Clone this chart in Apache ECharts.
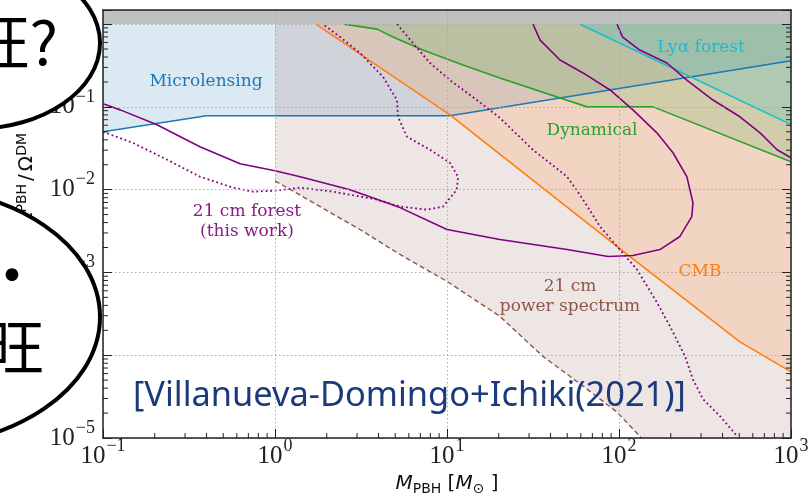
<!DOCTYPE html>
<html>
<head>
<meta charset="utf-8">
<script src="https://cdn.jsdelivr.net/npm/echarts@6/dist/echarts.min.js"></script>
<style>
html, body { margin: 0; padding: 0; background: #fff; }
#chart_id { width: 811px; height: 500px; }
</style>
</head>
<body>
<div id="chart_id"></div>
<script>
// axis range (M_PBH in solar masses, f_PBH)
var xMin = 0.1, xMax = 1000;
var yMin = 1e-5, yMax = 1.48;

// Microlensing
var microM = [0.1, 0.4, 10.4, 1000];
var microF = [0.05, 0.078, 0.078, 0.36];
// Ly-alpha forest
var lyaM = [59, 1000];
var lyaF = [1, 0.061];
// Dynamical
var dynM = [2.52, 3.92, 4.85, 7.24, 12.4, 20.3, 65.2, 158, 1000];
var dynF = [1, 0.87, 0.70, 0.486, 0.32, 0.223, 0.1, 0.1, 0.0217];
// CMB
var cmbM = [1.73, 10.4, 111, 505, 1000];
var cmbF = [1, 0.080, 0.00166, 1.45e-4, 6.3e-5];
// 21 cm power spectrum
var psM = [1, 3.12, 5.33, 10, 20.3, 36.1, 65.2, 97.3, 135];
var psF = [0.0128, 0.0033, 0.00165, 7.8e-4, 2.95e-4, 9.7e-5, 3.9e-5, 2.06e-5, 1e-5];
// 21 cm forest (this work), solid curves
var forestAM = [0.1, 0.126, 0.206, 0.366, 0.627, 1.0, 1.40, 2.73, 5.33, 10, 20.3, 49.9, 86.3, 120.5, 173, 226, 265, 269, 248, 206, 166, 120.5, 88.7, 61.8, 45.4, 34.8, 31.6];
var forestAF = [0.109, 0.092, 0.0607, 0.033, 0.0206, 0.0169, 0.01435, 0.01, 0.00607, 0.0033, 0.0025, 0.00189, 0.00156, 0.0016, 0.00189, 0.00272, 0.00473, 0.00697, 0.01435, 0.0279, 0.0486, 0.092, 0.160, 0.257, 0.368, 0.641, 1];
var forestBM = [97.3, 105, 132, 190, 248, 352, 505, 661, 830, 1000];
var forestBF = [1, 0.697, 0.486, 0.339, 0.211, 0.121, 0.0759, 0.0486, 0.0303, 0.0243];
// 21 cm forest (this work), dotted curves
var forestCM = [0.1, 0.149, 0.236, 0.366, 0.57, 0.745, 1.0, 1.40, 2.17, 3.92, 5.33, 7.66, 9.48, 11.4, 11.6, 10.4, 7.96, 5.85, 5.19, 5.12, 4.25, 3.12, 2.39, 1.90];
var forestCF = [0.05, 0.0368, 0.023, 0.01435, 0.01057, 0.00946, 0.00973, 0.01057, 0.00946, 0.00759, 0.00624, 0.00574, 0.00624, 0.01, 0.01435, 0.0211, 0.0303, 0.0436, 0.0759, 0.121, 0.23, 0.448, 0.697, 1];
var forestDM = [5.12, 6.34, 7.96, 10.4, 14.9, 20.3, 31.6, 49.9, 61.8, 77.6, 101, 127, 166, 198, 242, 269, 308, 386, 485];
var forestDF = [1, 0.59, 0.339, 0.211, 0.121, 0.0736, 0.0303, 0.01435, 0.00759, 0.00358, 0.00189, 0.00109, 4.36e-4, 2.23e-4, 9.7e-5, 5.1e-5, 2.95e-5, 1.84e-5, 1.06e-5];

// minor ticks of the log axes
var minorX = [], minorY = [];
for (var d = -1; d < 3; d++) for (var k = 2; k < 10; k++) minorX.push([k * Math.pow(10, d), yMin]);
for (var d2 = -5; d2 < 0; d2++) for (var k2 = 2; k2 < 10; k2++) minorY.push([xMin, k2 * Math.pow(10, d2)]);

function pairs(xs, ys) {
  return xs.map(function (x, i) { return [x, ys[i]]; });
}

var serif = 'Liberation Serif';
var frame = '#222';

function powLabel(v) {
  var e = Math.log10(v), r = Math.round(e);
  if (Math.abs(e - r) > 1e-6) return '';
  return '{b|10}{s|' + (r < 0 ? '\u2212' + (-r) : r) + '}';
}
// the 10^0 label on the y axis sits under the speech bubble
function powLabelY(v) {
  return v >= 1 ? '' : powLabel(v);
}
var powRich = {
  b: { fontFamily: serif, fontSize: 25, color: '#222', lineHeight: 26 },
  s: { fontFamily: serif, fontSize: 18, color: '#222', lineHeight: 18, padding: [0, 0, 20, 1] }
};
var nameRich = {
  i: { fontFamily: 'DejaVu Sans', fontStyle: 'italic', fontSize: 20, color: '#111', lineHeight: 24 },
  n: { fontFamily: 'DejaVu Sans', fontSize: 20, color: '#111', lineHeight: 24 },
  s: { fontFamily: 'DejaVu Sans', fontSize: 14, color: '#111', lineHeight: 14, padding: [10, 0, 0, 0] }
};
var yNameRich = {
  i: { fontFamily: 'DejaVu Sans', fontStyle: 'italic', fontSize: 20, fill: '#111', lineHeight: 22 },
  n: { fontFamily: 'DejaVu Sans', fontSize: 20, fill: '#111', lineHeight: 22 },
  sl: { fontFamily: 'DejaVu Sans', fontSize: 20, fill: '#111', lineHeight: 22, padding: [0, 3, 0, 3] },
  s: { fontFamily: 'DejaVu Sans', fontSize: 14, fill: '#111', lineHeight: 14, padding: [0, 0, 9, 0] }
};

function fillSeries(name, data, color) {
  return {
    name: name, type: 'line', data: data, showSymbol: false, silent: true,
    lineStyle: { width: 0, opacity: 0 },
    areaStyle: { color: color, origin: 'end', opacity: 1 },
    z: 2
  };
}
function lineSeries(name, data, color, type, width) {
  return {
    name: name, type: 'line', data: data, showSymbol: false, silent: true,
    lineStyle: { color: color, width: width || 1.6, type: type || 'solid' },
    z: 3
  };
}

var chart = echarts.init(document.getElementById('chart_id'));
var option = {
  animation: false,
  grid: { left: 103, right: 20, top: 10, bottom: 62, containLabel: false, outerBoundsMode: 'none' },
  xAxis: [
    {
      type: 'log', logBase: 10, min: xMin, max: xMax, position: 'bottom', z: 6,
      axisLine: { lineStyle: { color: frame, width: 1.5 } },
      axisTick: { inside: true, length: 9, lineStyle: { color: frame, width: 1 } },
      splitLine: { show: true, lineStyle: { color: '#aaa', type: [1.5, 2.5], width: 1 } },
      axisLabel: { formatter: powLabel, rich: powRich, margin: 5 },
      name: '{i|M}{s|PBH}{n| [}{i|M}{s|\u2299}{n| ]}',
      nameLocation: 'middle', nameGap: 34, nameMoveOverlap: false,
      nameTextStyle: { rich: nameRich }
    },
    {
      type: 'log', logBase: 10, min: xMin, max: xMax, position: 'top', z: 6,
      axisLine: { lineStyle: { color: frame, width: 1.5 } },
      axisTick: { show: false }, axisLabel: { show: false }, splitLine: { show: false }
    }
  ],
  yAxis: [
    {
      type: 'log', logBase: 10, min: yMin, max: yMax, position: 'left', z: 6,
      axisLine: { lineStyle: { color: frame, width: 1.5 } },
      axisTick: { inside: true, length: 9, lineStyle: { color: frame, width: 1 } },
      splitLine: { show: true, lineStyle: { color: '#aaa', type: [1.5, 2.5], width: 1 } },
      axisLabel: { formatter: powLabelY, rich: powRich, margin: 8 }
    },
    {
      type: 'log', logBase: 10, min: yMin, max: yMax, position: 'right', z: 6,
      axisLine: { lineStyle: { color: frame, width: 1.5 } },
      axisTick: { inside: true, length: 9, lineStyle: { color: frame, width: 1 } },
      axisLabel: { show: false }, splitLine: { show: false }
    }
  ],
  series: [
    fillSeries('Microlensing area', pairs(microM, microF), 'rgba(31,119,180,0.16)'),
    fillSeries('21 cm power spectrum area', pairs(psM, psF).concat([[xMax, yMin]]), 'rgba(140,86,75,0.15)'),
    fillSeries('CMB area', pairs(cmbM, cmbF), 'rgba(255,127,14,0.16)'),
    fillSeries('Dynamical area', pairs(dynM, dynF), 'rgba(44,160,44,0.16)'),
    fillSeries('Lya area', pairs(lyaM, lyaF), 'rgba(23,190,207,0.18)'),
    lineSeries('Microlensing', pairs(microM, microF), '#1f77b4'),
    lineSeries('21 cm power spectrum', pairs(psM, psF), '#8c564b', [5, 3], 1.4),
    lineSeries('CMB', pairs(cmbM, cmbF), '#ff7f0e'),
    lineSeries('Dynamical', pairs(dynM, dynF), '#2ca02c'),
    lineSeries('Lya forest', pairs(lyaM, lyaF), '#17becf'),
    lineSeries('21 cm forest A', pairs(forestAM, forestAF), '#800080'),
    lineSeries('21 cm forest B', pairs(forestBM, forestBF), '#800080'),
    lineSeries('21 cm forest C', pairs(forestCM, forestCF), '#800080', [1.8, 2.8], 1.8),
    lineSeries('21 cm forest D', pairs(forestDM, forestDF), '#800080', [1.8, 2.8], 1.8),
    {
      name: 'f > 1', type: 'line', data: [], silent: true, z: 5,
      markArea: {
        silent: true, z: 5,
        itemStyle: { color: '#c0c0c0' },
        data: [[{ yAxis: 1 }, { yAxis: yMax }]]
      }
    },
    {
      name: 'minor x', type: 'custom', data: minorX, silent: true, z: 7,
      renderItem: function (params, api) {
        var cs = params.coordSys;
        var p = api.coord([api.value(0), api.value(1)]);
        var yb = cs.y + cs.height;
        return { type: 'line', shape: { x1: p[0], y1: yb, x2: p[0], y2: yb - 5 }, style: { stroke: frame, lineWidth: 1 } };
      }
    },
    {
      name: 'minor y', type: 'custom', data: minorY, silent: true, z: 7,
      renderItem: function (params, api) {
        var cs = params.coordSys;
        var p = api.coord([api.value(0), api.value(1)]);
        return {
          type: 'group', children: [
            { type: 'line', shape: { x1: cs.x, y1: p[1], x2: cs.x + 5, y2: p[1] }, style: { stroke: frame, lineWidth: 1 } },
            { type: 'line', shape: { x1: cs.x + cs.width, y1: p[1], x2: cs.x + cs.width - 5, y2: p[1] }, style: { stroke: frame, lineWidth: 1 } }
          ]
        };
      }
    }
  ],
  graphic: [
    // y axis title, rotated
    { type: 'text', z: 20, x: 27, y: 133, rotation: Math.PI / 2,
      style: { text: '{i|f}{s|PBH}{n| = \u03a9}{s|PBH}{sl|/}{n|\u03a9}{s|DM}', rich: yNameRich, align: 'right', verticalAlign: 'middle', textAlign: 'right', textVerticalAlign: 'middle' } },
    { type: 'text', z: 20, style: { text: 'Microlensing', x: 206, y: 82, fill: '#1f77b4', font: '17px "DejaVu Serif"', textAlign: 'center', textVerticalAlign: 'middle', align: 'center', verticalAlign: 'middle' } },
    { type: 'text', z: 20, style: { text: 'Ly\u03b1 forest', x: 701, y: 48, fill: '#17becf', font: '17px "DejaVu Serif"', textAlign: 'center', textVerticalAlign: 'middle', align: 'center', verticalAlign: 'middle' } },
    { type: 'text', z: 20, style: { text: 'Dynamical', x: 592, y: 131, fill: '#2ca02c', font: '17px "DejaVu Serif"', textAlign: 'center', textVerticalAlign: 'middle', align: 'center', verticalAlign: 'middle' } },
    { type: 'text', z: 20, style: { text: 'CMB', x: 700, y: 272, fill: '#ff7f0e', font: '17px "DejaVu Serif"', textAlign: 'center', textVerticalAlign: 'middle', align: 'center', verticalAlign: 'middle' } },
    { type: 'text', z: 20, style: { text: '21 cm\npower spectrum', x: 570, y: 297, fill: '#8c564b', font: '17px "DejaVu Serif"', lineHeight: 20, textAlign: 'center', textVerticalAlign: 'middle', align: 'center', verticalAlign: 'middle' } },
    { type: 'text', z: 20, style: { text: '21 cm forest\n(this work)', x: 247, y: 222, fill: '#8a1a8a', font: '17px "DejaVu Serif"', lineHeight: 20, textAlign: 'center', textVerticalAlign: 'middle', align: 'center', verticalAlign: 'middle' } },
    { type: 'text', z: 20, style: { text: '[Villanueva-Domingo+Ichiki(2021)]', x: 133, y: 396, fill: '#1a3a7c', font: '34.4px "Noto Sans"', textAlign: 'left', textVerticalAlign: 'middle', align: 'left', verticalAlign: 'middle' } },
    // speech bubbles overlapping the chart
    { type: 'ellipse', z: 30, shape: { cx: -27, cy: 43, rx: 127, ry: 86 }, style: { fill: '#fff', stroke: '#000', lineWidth: 4 } },
    { type: 'ellipse', z: 30, shape: { cx: -92, cy: 317, rx: 192, ry: 130 }, style: { fill: '#fff', stroke: '#000', lineWidth: 4 } },
    { type: 'text', z: 31, style: { text: '\u65fa?', x: 58, y: 42, fill: '#000', font: '60px "Noto Sans CJK JP"', textAlign: 'right', textVerticalAlign: 'middle', align: 'right', verticalAlign: 'middle' } },
    { type: 'text', z: 31, style: { text: '\u30fb', x: 12, y: 275, fill: '#000', font: '60px "Noto Sans CJK JP"', textAlign: 'center', textVerticalAlign: 'middle', align: 'center', verticalAlign: 'middle' } },
    { type: 'text', z: 31, style: { text: '\u65fa', x: 44, y: 347, fill: '#000', font: '60px "Noto Sans CJK JP"', textAlign: 'right', textVerticalAlign: 'middle', align: 'right', verticalAlign: 'middle' } }
  ]
};
chart.setOption(option);
</script>
</body>
</html>
